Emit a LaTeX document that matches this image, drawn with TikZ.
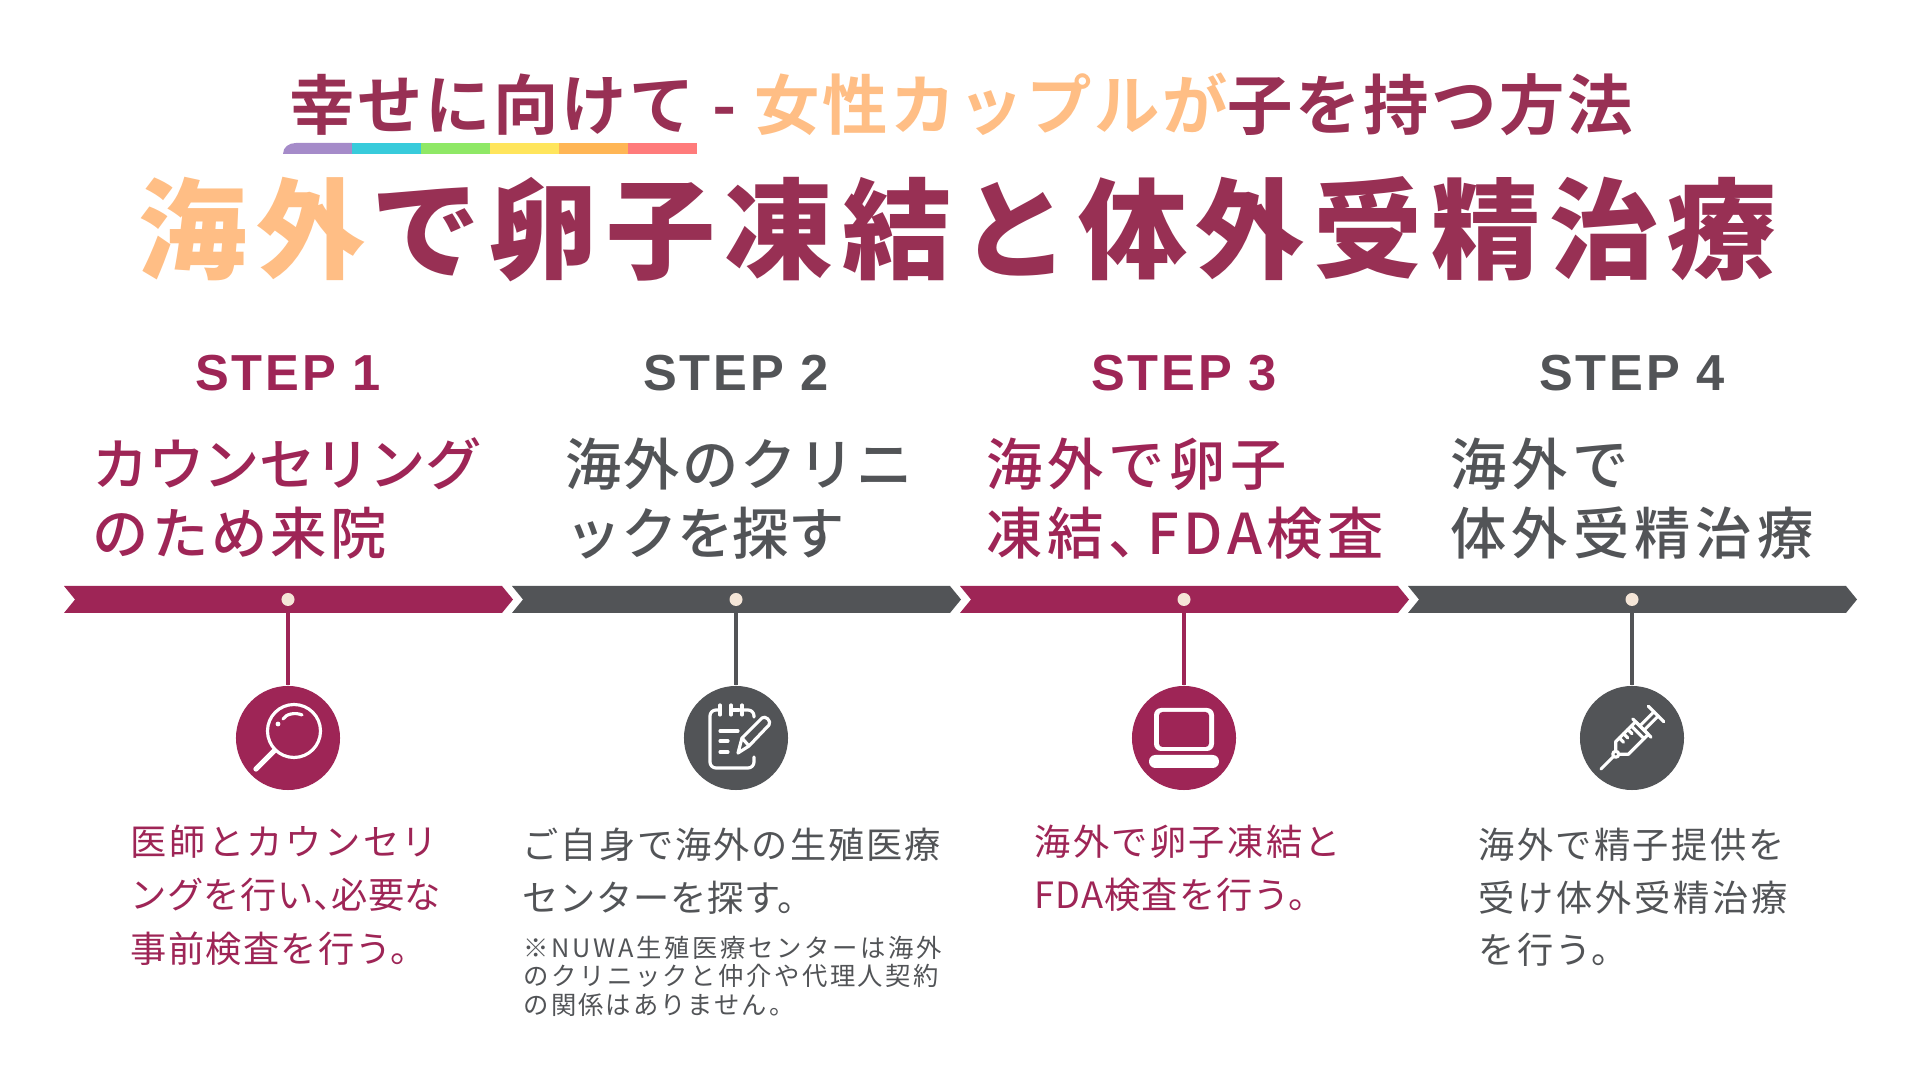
\documentclass[tikz,border=0pt]{standalone}
\usepackage{fontspec}
\newfontfamily\jpbold{Noto Sans CJK JP Bold}
\newfontfamily\jpblack{Noto Sans CJK JP Black}
\newfontfamily\jpmed{Noto Sans CJK JP Medium}
\newfontfamily\jpreg{Noto Sans CJK JP}
\newfontfamily\stepfont{Liberation Sans Bold}
\definecolor{plum}{HTML}{9E2556}
\definecolor{slate}{HTML}{525457}
\definecolor{wine}{HTML}{983054}
\definecolor{peach}{HTML}{FFBE85}
\definecolor{cream}{HTML}{F5E6D8}
\newcommand{\jpsize}[2]{\fontsize{#1}{#1}\selectfont\addfontfeature{LetterSpace=#2}}

\begin{document}
\begin{tikzpicture}[x=0.01cm, y=-0.01cm,
  textline/.style={anchor=west, inner sep=0},
  titleone/.style={textline, font=\jpbold\jpsize{18.6}{4}},
  titletwo/.style={textline, font=\jpblack\jpsize{31}{8.1}},
  steplabel/.style={inner sep=0, font=\stepfont\jpsize{14.4}{5.5}},
  headline/.style={textline, font=\jpmed\jpsize{16}{#1}},
  bodyline/.style={textline, font=\jpreg\jpsize{10.3}{#1}},
  noteline/.style={textline, font=\jpreg\jpsize{7.2}{#1}},
  dot/.style={circle, fill=cream, inner sep=0, minimum size=0.13cm},
  badge/.style={circle, inner sep=0, minimum size=1.04cm},
  stem/.style={line width=1.15pt},
  glyph/.style={draw=white, line width=0.9pt, line cap=round, line join=round}]
\useasboundingbox (0,0) rectangle (1920,1080);

% Title
\node[titleone, text=wine] (title1) at (289,104) {幸せに向けて - \textcolor{peach}{女性カップルが}子を持つ方法};
\node[titletwo, text=wine] (title2) at (138,229) {\textcolor{peach}{海外}\kern0.05em で卵子凍結と体外受精治療};

% Rainbow bar
\fill[fill={rgb,255:red,165;green,139;blue,201}] (283,154) .. controls (283,147) and (289,143) .. (296,143) -- (352,143) -- (352,154) -- cycle;
\fill[fill={rgb,255:red,56;green,203;blue,219}] (352,143) rectangle (421,154);
\fill[fill={rgb,255:red,143;green,232;blue,102}] (421,143) rectangle (490,154);
\fill[fill={rgb,255:red,255;green,229;blue,92}] (490,143) rectangle (559,154);
\fill[fill={rgb,255:red,255;green,182;blue,85}] (559,143) rectangle (628,154);
\fill[fill={rgb,255:red,255;green,123;blue,123}] (628,143) rectangle (697,154);

% Step labels
\node[steplabel, text=plum] (step1) at (288,373) {STEP 1};
\node[steplabel, text=slate] (step2) at (736,373) {STEP 2};
\node[steplabel, text=plum] (step3) at (1184,373) {STEP 3};
\node[steplabel, text=slate] (step4) at (1632,373) {STEP 4};

% Headings
\node[headline=-1.5, text=plum] (head1a) at (92,464) {カウンセリング};
\node[headline=5.5, text=plum] (head1b) at (92,533) {のため来院};
\node[headline=3.5, text=slate] (head2a) at (565,464) {海外のクリニ};
\node[headline=-1, text=slate] (head2b) at (565,533) {ックを探す};
\node[headline=8.5, text=plum] (head3a) at (986,464) {海外で卵子};
\node[headline=8, text=plum] (head3b) at (986,533) {凍結、\kern-0.3em FDA検査};
\node[headline=8, text=slate] (head4a) at (1450,464) {海外で};
\node[headline=9, text=slate] (head4b) at (1450,533) {体外受精治療};

% Timeline
\fill[plum] (64,586) -- (502,586) -- (513,599.5) -- (502,613) -- (64,613) -- (75,599.5) -- cycle;
\fill[slate] (512,586) -- (950,586) -- (961,599.5) -- (950,613) -- (512,613) -- (523,599.5) -- cycle;
\fill[plum] (960,586) -- (1398,586) -- (1409,599.5) -- (1398,613) -- (960,613) -- (971,599.5) -- cycle;
\fill[slate] (1408,586) -- (1846,586) -- (1857,599.5) -- (1846,613) -- (1408,613) -- (1419,599.5) -- cycle;

% Badges and stems
\node[badge, fill=plum] (badge1) at (288,738) {};
\node[badge, fill=slate] (badge2) at (736,738) {};
\node[badge, fill=plum] (badge3) at (1184,738) {};
\node[badge, fill=slate] (badge4) at (1632,738) {};
\node[dot] (dot1) at (288,599.5) {};
\node[dot] (dot2) at (736,599.5) {};
\node[dot] (dot3) at (1184,599.5) {};
\node[dot] (dot4) at (1632,599.5) {};
\draw[stem, plum] (dot1) -- (badge1);
\draw[stem, slate] (dot2) -- (badge2);
\draw[stem, plum] (dot3) -- (badge3);
\draw[stem, slate] (dot4) -- (badge4);

% Magnifier
\begin{scope}[shift={(badge1.center)}]
\draw[glyph] (6,-7) circle (26.5);
\draw[glyph, line width=1.5pt] (-14,13) -- (-32,31);
\draw[glyph] (-5,-19) .. controls (-2,-24) and (7,-26) .. (14,-23);
\fill[white] (-10,-14) circle (2.4);
\end{scope}

% Notepad
\begin{scope}[shift={(badge2.center)}]
\draw[glyph, rounded corners=1.7pt] (-16,-28) -- (-26,-28) -- (-26,30) -- (18,30) -- (18,19);
\draw[glyph] (-5,-28) -- (3,-28);
\draw[glyph, rounded corners=1.7pt] (6,-28) -- (18,-28) -- (18,-21);
\draw[glyph] (-16,-33) -- (-16,-23);
\draw[glyph] (-5,-33) -- (-5,-23);
\draw[glyph] (6,-33) -- (6,-23);
\draw[glyph] (-16,-7) -- (2,-7);
\draw[glyph] (-16,3) -- (-8,3);
\draw[glyph] (-16,14) -- (-8,14);
\draw[glyph] (2,15) -- (6,0) -- (26,-20) .. controls (29,-23) and (36,-17) .. (33,-13) -- (13,8) -- cycle;
\draw[glyph] (6,0) -- (13,8);
\end{scope}

% Laptop
\begin{scope}[shift={(badge3.center)}]
\fill[white, rounded corners=2pt] (-30,-30) rectangle (30,13);
\fill[plum, rounded corners=1pt] (-25,-26) rectangle (25,9);
\fill[white, rounded corners=1.8pt] (-35,17) rectangle (35,30);
\end{scope}

% Syringe
\begin{scope}[shift={(badge4.center)}, rotate=45]
\draw[glyph] (-44,0) -- (-26,0);
\draw[glyph] (-23,0) circle (3);
\draw[glyph] (-20,-3) -- (-14,-9) -- (14,-9) -- (14,9) -- (-14,9) -- (-20,3);
\draw[glyph] (-9,-9) -- (-9,-3);
\draw[glyph] (-3,-9) -- (-3,-3);
\draw[glyph] (3,-9) -- (3,-3);
\draw[glyph] (8,-9) -- (8,9);
\draw[glyph] (14,-13) -- (14,13);
\draw[glyph] (14,-3) -- (34,-3);
\draw[glyph] (14,3) -- (34,3);
\draw[glyph] (34,-11) -- (34,11);
\end{scope}

% Descriptions
\node[bodyline=7, text=plum] (body1a) at (130,842) {医師とカウンセリ};
\node[bodyline=1, text=plum] (body1b) at (130,895) {ングを行い、\kern-0.5em 必要な};
\node[bodyline=3.5, text=plum] (body1c) at (130,949) {事前検査を行う。};
\node[bodyline=5.5, text=slate] (body2a) at (522,845) {ご自身で海外の生殖医療};
\node[bodyline=2, text=slate] (body2b) at (522,898) {センターを探す。};
\node[noteline=10.5, text=slate] (note2a) at (523,948) {※NUWA生殖医療センターは海外};
\node[noteline=10, text=slate] (note2b) at (523,976) {のクリニックと仲介や代理人契約};
\node[noteline=8, text=slate] (note2c) at (523,1005) {の関係はありません。};
\node[bodyline=6.5, text=plum] (body3a) at (1034,842) {海外で卵子凍結と};
\node[bodyline=3, text=plum] (body3b) at (1034,895) {FDA検査を行う。};
\node[bodyline=6.5, text=slate] (body4a) at (1478,845) {海外で精子提供を};
\node[bodyline=7.5, text=slate] (body4b) at (1478,898) {受け体外受精治療};
\node[bodyline=6, text=slate] (body4c) at (1478,950) {を行う。};

\end{tikzpicture}
\end{document}
